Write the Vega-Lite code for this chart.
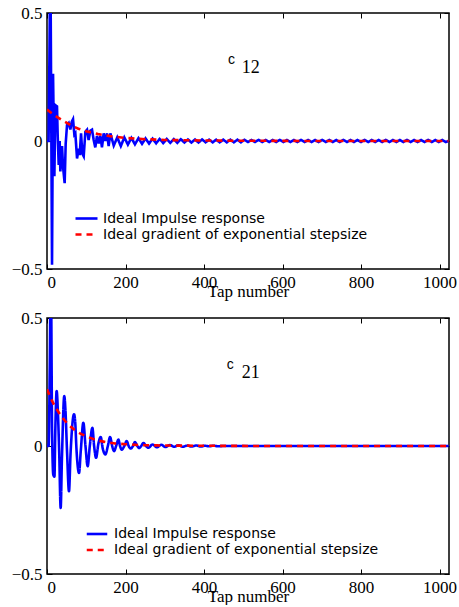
{
  "$schema": "https://vega.github.io/schema/vega-lite/v6.json",
  "padding": {"left": 10, "top": 3, "right": 0, "bottom": 0},
  "background": "white",
  "spacing": 8,
  "config": {
    "view": {"stroke": "black", "strokeWidth": 1.5},
    "axis": {
      "grid": false,
      "domain": false,
      "labelFont": "Liberation Serif",
      "labelFontSize": 17,
      "labelColor": "black",
      "tickColor": "black",
      "tickWidth": 1,
      "titleFont": "Liberation Serif",
      "titleFontSize": 17,
      "titleFontWeight": "normal",
      "titleColor": "black"
    },
    "legend": {
      "labelFont": "DejaVu Sans",
      "labelFontSize": 14,
      "labelColor": "black",
      "labelLimit": 0
    }
  },
  "datasets": {
    "top": [
      {"t":0,"v":0,"s":"a"},{"t":4,"v":0,"s":"a"},{"t":6,"v":0.3,"s":"a"},{"t":8.6,"v":0.75,"s":"a"},
      {"t":12.8,"v":-0.483,"s":"a"},{"t":15.4,"v":0.263,"s":"a"},{"t":18.8,"v":-0.138,"s":"a"},{"t":21.3,"v":0.14,"s":"a"},
      {"t":25.5,"v":0.135,"s":"a"},{"t":27.2,"v":0.023,"s":"a"},{"t":29.8,"v":-0.094,"s":"a"},{"t":32.3,"v":0.0,"s":"a"},
      {"t":34,"v":-0.119,"s":"a"},{"t":38.3,"v":-0.02,"s":"a"},{"t":40.8,"v":-0.1,"s":"a"},{"t":45,"v":-0.165,"s":"a"},
      {"t":47.6,"v":-0.01,"s":"a"},{"t":51,"v":0.062,"s":"a"},{"t":55.3,"v":0.07,"s":"a"},{"t":59.5,"v":0.045,"s":"a"},
      {"t":63,"v":0.075,"s":"a"},{"t":66.3,"v":0.085,"s":"a"},{"t":69.7,"v":0.025,"s":"a"},{"t":72.2,"v":0.03,"s":"a"},
      {"t":76.5,"v":-0.068,"s":"a"},{"t":80.7,"v":-0.03,"s":"a"},{"t":83.3,"v":-0.055,"s":"a"},{"t":86.7,"v":0.03,"s":"a"},
      {"t":90,"v":-0.05,"s":"a"},{"t":93.5,"v":-0.06,"s":"a"},{"t":97.7,"v":0.036,"s":"a"},{"t":102,"v":0.044,"s":"a"},
      {"t":106,"v":0.004,"s":"a"},{"t":110.4,"v":0.04,"s":"a"},{"t":114.7,"v":0.044,"s":"a"},{"t":118.9,"v":0.004,"s":"a"},
      {"t":123,"v":-0.025,"s":"a"},{"t":127.4,"v":0.02,"s":"a"},{"t":131.7,"v":-0.01,"s":"a"},{"t":135.9,"v":0.02,"s":"a"},
      {"t":140,"v":-0.025,"s":"a"},{"t":144.4,"v":0.03,"s":"a"},{"t":148.6,"v":0.0,"s":"a"},{"t":152.9,"v":0.03,"s":"a"},
      {"t":157,"v":-0.02,"s":"a"},{"t":161.4,"v":0.03,"s":"a"},{"t":170,"v":-0.018,"s":"a"},{"t":179,"v":0.014,"s":"a"},
      {"t":188,"v":-0.02,"s":"a"},{"t":197,"v":0.014,"s":"a"},{"t":206,"v":-0.014,"s":"a"},{"t":215,"v":0.012,"s":"a"},
      {"t":224,"v":-0.013,"s":"a"},{"t":233,"v":0.011,"s":"a"},{"t":242,"v":-0.011,"s":"a"},{"t":251,"v":0.01,"s":"a"},
      {"t":260,"v":-0.01,"s":"a"},{"t":269,"v":0.009,"s":"a"},{"t":278,"v":-0.009,"s":"a"},{"t":287,"v":0.008,"s":"a"},
      {"t":296,"v":-0.008,"s":"a"},{"t":305,"v":0.008,"s":"a"},{"t":314,"v":-0.007,"s":"a"},{"t":323,"v":0.007,"s":"a"},
      {"t":332,"v":-0.007,"s":"a"},{"t":341,"v":0.007,"s":"a"},{"t":350,"v":-0.006,"s":"a"},{"t":359,"v":0.006,"s":"a"},
      {"t":368,"v":-0.006,"s":"a"},{"t":377,"v":0.006,"s":"a"},{"t":386,"v":-0.006,"s":"a"},{"t":395,"v":0.006,"s":"a"},
      {"t":404,"v":-0.005,"s":"a"},{"t":413,"v":0.005,"s":"a"},{"t":422,"v":-0.005,"s":"a"},{"t":431,"v":0.005,"s":"a"},
      {"t":440,"v":-0.005,"s":"a"},{"t":449,"v":0.005,"s":"a"},{"t":458,"v":-0.005,"s":"a"},{"t":467,"v":0.005,"s":"a"},
      {"t":476,"v":-0.005,"s":"a"},{"t":485,"v":0.005,"s":"a"},{"t":494,"v":-0.005,"s":"a"},{"t":503,"v":0.005,"s":"a"},
      {"t":512,"v":-0.004,"s":"a"},{"t":521,"v":0.004,"s":"a"},{"t":530,"v":-0.004,"s":"a"},{"t":539,"v":0.004,"s":"a"},
      {"t":548,"v":-0.004,"s":"a"},{"t":557,"v":0.004,"s":"a"},{"t":566,"v":-0.004,"s":"a"},{"t":575,"v":0.004,"s":"a"},
      {"t":584,"v":-0.004,"s":"a"},{"t":593,"v":0.004,"s":"a"},{"t":602,"v":-0.004,"s":"a"},{"t":611,"v":0.004,"s":"a"},
      {"t":620,"v":-0.004,"s":"a"},{"t":629,"v":0.004,"s":"a"},{"t":638,"v":-0.004,"s":"a"},{"t":647,"v":0.004,"s":"a"},
      {"t":656,"v":-0.004,"s":"a"},{"t":665,"v":0.004,"s":"a"},{"t":674,"v":-0.004,"s":"a"},{"t":683,"v":0.004,"s":"a"},
      {"t":692,"v":-0.004,"s":"a"},{"t":701,"v":0.004,"s":"a"},{"t":710,"v":-0.004,"s":"a"},{"t":719,"v":0.004,"s":"a"},
      {"t":728,"v":-0.004,"s":"a"},{"t":737,"v":0.004,"s":"a"},{"t":746,"v":-0.004,"s":"a"},{"t":755,"v":0.004,"s":"a"},
      {"t":764,"v":-0.004,"s":"a"},{"t":773,"v":0.004,"s":"a"},{"t":782,"v":-0.004,"s":"a"},{"t":791,"v":0.004,"s":"a"},
      {"t":800,"v":-0.004,"s":"a"},{"t":809,"v":0.004,"s":"a"},{"t":818,"v":-0.004,"s":"a"},{"t":827,"v":0.004,"s":"a"},
      {"t":836,"v":-0.004,"s":"a"},{"t":845,"v":0.004,"s":"a"},{"t":854,"v":-0.004,"s":"a"},{"t":863,"v":0.004,"s":"a"},
      {"t":872,"v":-0.004,"s":"a"},{"t":881,"v":0.004,"s":"a"},{"t":890,"v":-0.004,"s":"a"},{"t":899,"v":0.004,"s":"a"},
      {"t":908,"v":-0.004,"s":"a"},{"t":917,"v":0.004,"s":"a"},{"t":926,"v":-0.004,"s":"a"},{"t":935,"v":0.004,"s":"a"},
      {"t":944,"v":-0.004,"s":"a"},{"t":953,"v":0.004,"s":"a"},{"t":962,"v":-0.004,"s":"a"},{"t":971,"v":0.004,"s":"a"},
      {"t":980,"v":-0.004,"s":"a"},{"t":989,"v":0.004,"s":"a"},{"t":998,"v":-0.004,"s":"a"},{"t":1007,"v":0.004,"s":"a"},
      {"t":1016,"v":-0.004,"s":"a"},{"t":1023,"v":0.0,"s":"a"},
      {"t":0,"v":0.123,"s":"b"},{"t":20,"v":0.099,"s":"b"},{"t":40,"v":0.08,"s":"b"},{"t":60,"v":0.062,"s":"b"},
      {"t":80,"v":0.048,"s":"b"},{"t":100,"v":0.038,"s":"b"},{"t":130,"v":0.027,"s":"b"},{"t":160,"v":0.019,"s":"b"},
      {"t":200,"v":0.012,"s":"b"},{"t":250,"v":0.007,"s":"b"},{"t":300,"v":0.004,"s":"b"},{"t":350,"v":0.003,"s":"b"},
      {"t":400,"v":0.002,"s":"b"},{"t":500,"v":0.001,"s":"b"},{"t":700,"v":0.0,"s":"b"},{"t":1023,"v":0.0,"s":"b"}
    ],
    "bot": [
      {"t":0,"v":0,"s":"a"},{"t":4,"v":0,"s":"a"},{"t":7,"v":0.3,"s":"a"},{"t":9.7,"v":0.7,"s":"a"},
      {"t":13,"v":0.05,"s":"a"},{"t":16,"v":-0.112,"s":"a"},{"t":19,"v":-0.12,"s":"a"},{"t":21,"v":0.05,"s":"a"},
      {"t":24.6,"v":0.215,"s":"a"},{"t":28,"v":0.123,"s":"a"},{"t":31,"v":-0.02,"s":"a"},{"t":34.8,"v":-0.242,"s":"a"},
      {"t":38,"v":-0.05,"s":"a"},{"t":44,"v":0.195,"s":"a"},{"t":47,"v":0.14,"s":"a"},{"t":51,"v":-0.02,"s":"a"},
      {"t":56,"v":-0.177,"s":"a"},{"t":60,"v":-0.03,"s":"a"},{"t":68.8,"v":0.124,"s":"a"},{"t":72,"v":0.09,"s":"a"},
      {"t":75,"v":-0.01,"s":"a"},{"t":81.6,"v":-0.105,"s":"a"},{"t":86,"v":-0.02,"s":"a"},{"t":92.6,"v":0.091,"s":"a"},
      {"t":98,"v":0.0,"s":"a"},{"t":103.6,"v":-0.079,"s":"a"},{"t":109,"v":0.0,"s":"a"},{"t":115.6,"v":0.071,"s":"a"},
      {"t":120,"v":0.0,"s":"a"},{"t":125,"v":-0.046,"s":"a"},{"t":131,"v":0.01,"s":"a"},{"t":136.8,"v":0.035,"s":"a"},
      {"t":142,"v":-0.01,"s":"a"},{"t":148.7,"v":-0.033,"s":"a"},{"t":155,"v":0.0,"s":"a"},{"t":160.7,"v":0.035,"s":"a"},
      {"t":166,"v":0.0,"s":"a"},{"t":170.9,"v":-0.02,"s":"a"},{"t":176,"v":0.0,"s":"a"},{"t":181.9,"v":0.025,"s":"a"},
      {"t":186,"v":0.0,"s":"a"},{"t":190.4,"v":-0.014,"s":"a"},{"t":197,"v":0.0,"s":"a"},{"t":203,"v":0.019,"s":"a"},
      {"t":208,"v":0.0,"s":"a"},{"t":213,"v":-0.01,"s":"a"},{"t":219,"v":0.0,"s":"a"},{"t":224,"v":0.015,"s":"a"},
      {"t":230,"v":0.0,"s":"a"},{"t":235,"v":-0.008,"s":"a"},{"t":240,"v":0.0,"s":"a"},{"t":245.7,"v":0.012,"s":"a"},
      {"t":252,"v":0.0,"s":"a"},{"t":258,"v":-0.007,"s":"a"},{"t":269,"v":0.006,"s":"a"},{"t":280,"v":-0.005,"s":"a"},
      {"t":291,"v":0.005,"s":"a"},{"t":302,"v":-0.004,"s":"a"},{"t":313,"v":0.004,"s":"a"},{"t":324,"v":-0.003,"s":"a"},
      {"t":335,"v":0.003,"s":"a"},{"t":346,"v":-0.003,"s":"a"},{"t":357,"v":0.002,"s":"a"},{"t":368,"v":-0.002,"s":"a"},
      {"t":380,"v":0.002,"s":"a"},{"t":391,"v":-0.002,"s":"a"},{"t":402,"v":0.001,"s":"a"},{"t":413,"v":-0.001,"s":"a"},
      {"t":424,"v":0.001,"s":"a"},{"t":436,"v":-0.001,"s":"a"},{"t":450,"v":0.0,"s":"a"},{"t":600,"v":0.0,"s":"a"},
      {"t":800,"v":0.0,"s":"a"},{"t":1023,"v":0.0,"s":"a"},
      {"t":0,"v":0.222,"s":"b"},{"t":15,"v":0.17,"s":"b"},{"t":30,"v":0.131,"s":"b"},{"t":50,"v":0.091,"s":"b"},
      {"t":75,"v":0.058,"s":"b"},{"t":100,"v":0.038,"s":"b"},{"t":135,"v":0.02,"s":"b"},{"t":170,"v":0.011,"s":"b"},
      {"t":200,"v":0.007,"s":"b"},{"t":250,"v":0.003,"s":"b"},{"t":300,"v":0.002,"s":"b"},{"t":400,"v":0.001,"s":"b"},
      {"t":600,"v":0.0,"s":"b"},{"t":1023,"v":0.0,"s":"b"}
    ],
    "ann": [
      {"p":"top","x":470,"y":0.316,"txt":"c","k":"c"},
      {"p":"top","x":496,"y":0.285,"txt":"12","k":"n"},
      {"p":"bot","x":467,"y":0.316,"txt":"c","k":"c"},
      {"p":"bot","x":496,"y":0.285,"txt":"21","k":"n"}
    ]
  },
  "vconcat": [
    {
      "width": 402,
      "height": 256,
      "layer": [
        {
          "data": {"name": "top"},
          "mark": {"type": "line", "clip": true, "strokeWidth": 2.6},
          "encoding": {
            "x": {"field": "t", "type": "quantitative", "scale": {"domain": [0, 1024], "nice": false, "zero": false},
                  "axis": {"orient": "bottom", "values": [0, 200, 400, 600, 800, 1000], "format": "d", "labelFont": "Liberation Serif", "labelFontSize": 17, "tickSize": -5, "labelPadding": 10, "title": "Tap number", "titleFont": "Liberation Serif", "titlePadding": -7}},
            "y": {"field": "v", "type": "quantitative", "scale": {"domain": [-0.5, 0.5], "nice": false, "zero": false},
                  "axis": {"orient": "left", "values": [-0.5, 0, 0.5], "format": "~g", "labelFont": "Liberation Serif", "labelFontSize": 17, "tickSize": -5, "labelPadding": 10, "title": null}},
            "color": {"field": "s", "type": "nominal", "scale": {"domain": ["a", "b"], "range": ["#0000ff", "#ff0000"]},
                      "legend": {"title": null, "values": ["a"], "orient": "none", "legendX": 27, "legendY": 193, "padding": 0, "symbolType": "stroke", "symbolSize": 484, "symbolStrokeWidth": 2.6, "labelOffset": 4,
                                 "labelExpr": "'Ideal Impulse response'"}},
            "strokeDash": {"field": "s", "type": "nominal", "scale": {"domain": ["a", "b"], "range": [[1, 0], [6, 5]]},
                      "legend": {"title": null, "values": ["b"], "orient": "bottom-left", "offset": 27, "padding": 0, "symbolType": "stroke", "symbolSize": 484, "symbolStrokeWidth": 2.6, "symbolStrokeColor": "#ff0000", "labelOffset": 4,
                                 "labelExpr": "'Ideal gradient of exponential stepsize'"}}
          }
        },
        {
          "data": {"name": "top"},
          "transform": [{"filter": "datum.s == 'b'"}],
          "mark": {"type": "point", "opacity": 0, "clip": true},
          "encoding": {
            "x": {"field": "t", "type": "quantitative", "axis": {"orient": "top", "values": [0, 200, 400, 600, 800, 1000], "labels": false, "tickSize": -5, "title": null}},
            "y": {"field": "v", "type": "quantitative", "axis": {"orient": "right", "values": [-0.5, 0, 0.5], "labels": false, "tickSize": -5, "title": null}}
          }
        },
        {
          "data": {"name": "ann"},
          "transform": [{"filter": "datum.p == 'top' && datum.k == 'c'"}],
          "mark": {"type": "text", "font": "Liberation Sans", "fontSize": 14, "align": "center", "baseline": "middle", "color": "black"},
          "encoding": {
            "x": {"field": "x", "type": "quantitative", "axis": null},
            "y": {"field": "y", "type": "quantitative", "axis": null},
            "text": {"field": "txt"}
          }
        },
        {
          "data": {"name": "ann"},
          "transform": [{"filter": "datum.p == 'top' && datum.k == 'n'"}],
          "mark": {"type": "text", "font": "Liberation Serif", "fontSize": 18, "align": "left", "baseline": "middle", "color": "black"},
          "encoding": {
            "x": {"field": "x", "type": "quantitative", "axis": null},
            "y": {"field": "y", "type": "quantitative", "axis": null},
            "text": {"field": "txt"}
          }
        }
      ],
      "resolve": {"axis": {"x": "independent", "y": "independent"}}
    },
    {
      "width": 402,
      "height": 256,
      "layer": [
        {
          "data": {"name": "bot"},
          "mark": {"type": "line", "clip": true, "strokeWidth": 2.6, "interpolate": "monotone"},
          "encoding": {
            "x": {"field": "t", "type": "quantitative", "scale": {"domain": [0, 1024], "nice": false, "zero": false},
                  "axis": {"orient": "bottom", "values": [0, 200, 400, 600, 800, 1000], "format": "d", "labelFont": "Liberation Serif", "labelFontSize": 17, "tickSize": -5, "labelPadding": 10, "title": "Tap number", "titleFont": "Liberation Serif", "titlePadding": -7}},
            "y": {"field": "v", "type": "quantitative", "scale": {"domain": [-0.5, 0.5], "nice": false, "zero": false},
                  "axis": {"orient": "left", "values": [-0.5, 0, 0.5], "format": "~g", "labelFont": "Liberation Serif", "labelFontSize": 17, "tickSize": -5, "labelPadding": 10, "title": null}},
            "color": {"field": "s", "type": "nominal", "scale": {"domain": ["a", "b"], "range": ["#0000ff", "#ff0000"]},
                      "legend": {"title": null, "values": ["a"], "orient": "none", "legendX": 38, "legendY": 204, "padding": 0, "symbolType": "stroke", "symbolSize": 420, "symbolStrokeWidth": 2.6, "labelOffset": 5,
                                 "labelExpr": "'Ideal Impulse response'"}},
            "strokeDash": {"field": "s", "type": "nominal", "scale": {"domain": ["a", "b"], "range": [[1, 0], [6, 5]]},
                      "legend": {"title": null, "values": ["b"], "orient": "bottom-left", "offset": 17, "symbolOffset": 21, "padding": 0, "symbolType": "stroke", "symbolSize": 420, "symbolStrokeWidth": 2.6, "symbolStrokeColor": "#ff0000", "labelOffset": 5,
                                 "labelExpr": "'Ideal gradient of exponential stepsize'"}}
          }
        },
        {
          "data": {"name": "bot"},
          "transform": [{"filter": "datum.s == 'b'"}],
          "mark": {"type": "point", "opacity": 0, "clip": true},
          "encoding": {
            "x": {"field": "t", "type": "quantitative", "axis": {"orient": "top", "values": [0, 200, 400, 600, 800, 1000], "labels": false, "tickSize": -5, "title": null}},
            "y": {"field": "v", "type": "quantitative", "axis": {"orient": "right", "values": [-0.5, 0, 0.5], "labels": false, "tickSize": -5, "title": null}}
          }
        },
        {
          "data": {"name": "ann"},
          "transform": [{"filter": "datum.p == 'bot' && datum.k == 'c'"}],
          "mark": {"type": "text", "font": "Liberation Sans", "fontSize": 14, "align": "center", "baseline": "middle", "color": "black"},
          "encoding": {
            "x": {"field": "x", "type": "quantitative", "axis": null},
            "y": {"field": "y", "type": "quantitative", "axis": null},
            "text": {"field": "txt"}
          }
        },
        {
          "data": {"name": "ann"},
          "transform": [{"filter": "datum.p == 'bot' && datum.k == 'n'"}],
          "mark": {"type": "text", "font": "Liberation Serif", "fontSize": 18, "align": "left", "baseline": "middle", "color": "black"},
          "encoding": {
            "x": {"field": "x", "type": "quantitative", "axis": null},
            "y": {"field": "y", "type": "quantitative", "axis": null},
            "text": {"field": "txt"}
          }
        }
      ],
      "resolve": {"axis": {"x": "independent", "y": "independent"}}
    }
  ],
  "resolve": {"scale": {"color": "independent", "strokeDash": "independent"}, "legend": {"color": "independent", "strokeDash": "independent"}}
}
